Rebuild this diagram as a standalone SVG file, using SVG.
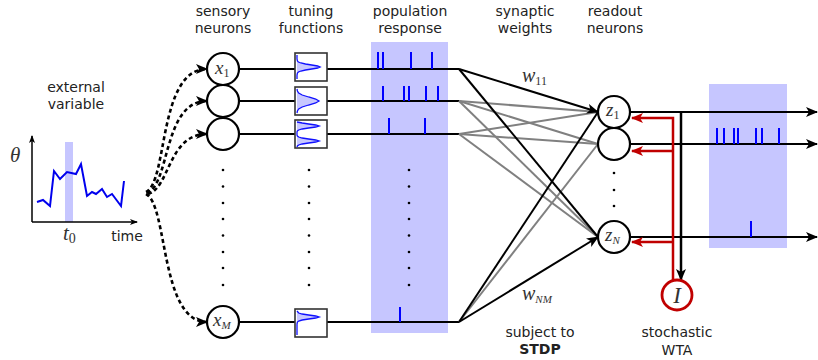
<svg xmlns="http://www.w3.org/2000/svg" width="818" height="360" viewBox="0 0 818 360">
<style>
.lbl{font-family:"DejaVu Sans",sans-serif;font-size:14px;fill:#222;text-anchor:middle}
.m{font-family:"Liberation Serif","DejaVu Serif",serif;font-style:italic;fill:#333}
.blk{stroke:#000;stroke-width:2;fill:none}
.gry{stroke:#808080;stroke-width:2;fill:none}
.neu{fill:#fff;stroke:#000;stroke-width:2.2}
.box{fill:#fff;stroke:#333;stroke-width:1.6}
.tc{fill:#c8c8ff;stroke:#1010ff;stroke-width:1.3}
.spk{stroke:#0000ff;stroke-width:2}
.sh{fill:#c6c6ff}
.dash{stroke:#000;stroke-width:2.6;fill:none;stroke-dasharray:4 3}
.red{stroke:#c00000;stroke-width:2.5;fill:none}
.dot{fill:#000}
</style>
<defs>
<marker id="ak" viewBox="0 0 12 10" refX="11" refY="5" markerWidth="12" markerHeight="10" markerUnits="userSpaceOnUse" orient="auto"><path d="M0,0 L12,5 L0,10 L3,5 z" fill="#000"/></marker>
<marker id="ar" viewBox="0 0 12 10" refX="11" refY="5" markerWidth="12" markerHeight="10" markerUnits="userSpaceOnUse" orient="auto"><path d="M0,0 L12,5 L0,10 L3,5 z" fill="#c00000"/></marker>
<marker id="as" viewBox="0 0 8 6" refX="7" refY="3" markerWidth="8" markerHeight="6" markerUnits="userSpaceOnUse" orient="auto"><path d="M0,0 L8,3 L0,6 L2,3 z" fill="#000"/></marker>
</defs>

<!-- column labels -->
<g id="labels">
<text class="lbl" x="223" y="16">sensory</text><text class="lbl" x="223" y="33">neurons</text>
<text class="lbl" x="311" y="16">tuning</text><text class="lbl" x="311" y="33">functions</text>
<text class="lbl" x="410" y="16">population</text><text class="lbl" x="410" y="33">response</text>
<text class="lbl" x="525" y="16">synaptic</text><text class="lbl" x="525" y="33">weights</text>
<text class="lbl" x="615" y="16">readout</text><text class="lbl" x="615" y="33">neurons</text>
<text class="lbl" x="76" y="92">external</text><text class="lbl" x="76" y="109">variable</text>
<text class="lbl" x="540" y="337">subject to</text><text class="lbl" x="540" y="354" font-weight="bold">STDP</text>
<text class="lbl" x="677" y="337">stochastic</text><text class="lbl" x="677" y="355">WTA</text>
</g>

<!-- external variable graph -->
<g id="graph">
<rect class="sh" x="65" y="142" width="8" height="80"/>
<line x1="32" y1="222" x2="32" y2="136" stroke="#000" stroke-width="1.5" marker-end="url(#as)"/>
<line x1="32" y1="222" x2="137" y2="222" stroke="#000" stroke-width="1.5" marker-end="url(#as)"/>
<polyline points="37,202 43,200 50,206 54,171 60,179 67,172 76,174 81,164 87,196 92,192 96,194 102,189 107,197 112,194 121,206 124,181" fill="none" stroke="#0000ee" stroke-width="2"/>
<text class="m" x="10" y="162" font-size="21">θ</text>
<text class="m" x="63" y="240" font-size="21">t<tspan font-style="normal" font-size="14" dy="3">0</tspan></text>
<text class="lbl" x="127" y="241" font-size="13.5">time</text>
</g>

<!-- shaded spike windows -->
<rect class="sh" x="371" y="42" width="77" height="291"/>
<rect class="sh" x="709" y="84" width="78" height="164"/>

<!-- connectors -->
<g id="connectors">
<path class="dash" d="M146,192 C168,182 158,69 207,69" marker-end="url(#ak)"/>
<path class="dash" d="M147,193 C170,185 163,101 207,101" marker-end="url(#ak)"/>
<path class="dash" d="M148,194 C170,188 168,134 207,134" marker-end="url(#ak)"/>
<path class="dash" d="M146,194 C168,205 160,322 207,322" marker-end="url(#ak)"/>
<!-- input rows -->
<line class="blk" x1="239" y1="69" x2="295" y2="69"/><line class="blk" x1="327" y1="69" x2="459" y2="69"/>
<line class="blk" x1="239" y1="101" x2="295" y2="101"/><line class="blk" x1="327" y1="101" x2="459" y2="101"/>
<line class="blk" x1="239" y1="134" x2="295" y2="134"/><line class="blk" x1="327" y1="134" x2="459" y2="134"/>
<line class="blk" x1="239" y1="322" x2="295" y2="322"/><line class="blk" x1="327" y1="322" x2="459" y2="322"/>
<!-- synaptic weights gray -->
<line class="gry" x1="459" y1="101" x2="598" y2="112"/>
<line class="gry" x1="459" y1="101" x2="598" y2="144"/>
<line class="gry" x1="459" y1="101" x2="598" y2="237"/>
<line class="gry" x1="459" y1="134" x2="598" y2="112"/>
<line class="gry" x1="459" y1="134" x2="598" y2="144"/>
<line class="gry" x1="459" y1="134" x2="598" y2="237"/>
<line class="gry" x1="459" y1="322" x2="598" y2="144"/>
<!-- synaptic weights black -->
<line class="blk" x1="459" y1="69" x2="598" y2="237"/>
<line class="blk" x1="459" y1="322" x2="598" y2="112"/>
<line class="blk" x1="459" y1="69" x2="598" y2="112" marker-end="url(#ak)"/>
<line class="blk" x1="459" y1="322" x2="598" y2="237" marker-end="url(#ak)"/>
<!-- outputs -->
<line class="blk" x1="630" y1="112" x2="817" y2="112" marker-end="url(#ak)"/>
<line class="blk" x1="630" y1="144" x2="817" y2="144" marker-end="url(#ak)"/>
<line class="blk" x1="630" y1="237" x2="817" y2="237" marker-end="url(#ak)"/>
<line x1="681" y1="112" x2="681" y2="280" stroke="#000" stroke-width="2.5" marker-end="url(#ak)"/>
<!-- inhibition -->
<polyline class="red" points="673,280 673,118 632,118" marker-end="url(#ar)"/>
<polyline class="red" points="673,151 632,151" marker-end="url(#ar)"/>
<polyline class="red" points="673,242 632,242" marker-end="url(#ar)"/>
</g>

<!-- spikes -->
<g id="spikes">
<path class="spk" d="M378,52V69M383,52V69M411,52V69M432,52V69"/>
<path class="spk" d="M383,86V101M404,86V101M409,86V101M426,86V101M438,86V101"/>
<path class="spk" d="M389,118V134M425,118V134"/>
<path class="spk" d="M400,307V322"/>
<path class="spk" d="M717,128V144M724,128V144M734,128V144M738,128V144M756,128V144M762,128V144M779,128V144"/>
<path class="spk" d="M751,221V237"/>
</g>

<!-- dots -->
<g id="dots">
<circle class="dot" cx="223" cy="170" r="1.3"/><circle class="dot" cx="223" cy="186.5" r="1.3"/><circle class="dot" cx="223" cy="203" r="1.3"/><circle class="dot" cx="223" cy="219" r="1.3"/><circle class="dot" cx="223" cy="235.5" r="1.3"/><circle class="dot" cx="223" cy="252" r="1.3"/><circle class="dot" cx="223" cy="268" r="1.3"/><circle class="dot" cx="223" cy="285" r="1.3"/>
<circle class="dot" cx="309" cy="170" r="1.3"/><circle class="dot" cx="309" cy="186.5" r="1.3"/><circle class="dot" cx="309" cy="203" r="1.3"/><circle class="dot" cx="309" cy="219" r="1.3"/><circle class="dot" cx="309" cy="235.5" r="1.3"/><circle class="dot" cx="309" cy="252" r="1.3"/><circle class="dot" cx="309" cy="268" r="1.3"/><circle class="dot" cx="309" cy="285" r="1.3"/>
<circle class="dot" cx="409" cy="170" r="1.3"/><circle class="dot" cx="409" cy="186.5" r="1.3"/><circle class="dot" cx="409" cy="203" r="1.3"/><circle class="dot" cx="409" cy="219" r="1.3"/><circle class="dot" cx="409" cy="235.5" r="1.3"/><circle class="dot" cx="409" cy="252" r="1.3"/><circle class="dot" cx="409" cy="268" r="1.3"/><circle class="dot" cx="409" cy="285" r="1.3"/>
<circle class="dot" cx="614" cy="173" r="1.3"/><circle class="dot" cx="614" cy="190" r="1.3"/><circle class="dot" cx="614" cy="206" r="1.3"/>
</g>

<!-- sensory neurons -->
<g id="x1"><circle class="neu" cx="223" cy="69" r="16"/><text class="m" x="215" y="74" font-size="19">x<tspan font-style="normal" font-size="12" dy="3">1</tspan></text></g>
<g id="x2"><circle class="neu" cx="223" cy="101" r="16"/></g>
<g id="x3"><circle class="neu" cx="223" cy="134" r="16"/></g>
<g id="xM"><circle class="neu" cx="223" cy="322" r="16"/><text class="m" x="213" y="326" font-size="19">x<tspan font-size="11" dy="3">M</tspan></text></g>

<!-- tuning functions -->
<g id="t1"><rect class="box" x="295" y="53" width="32" height="28"/>
<path class="tc" d="M297,55 L297,59 L297.4,61 L298.4,62 L300.9,63 L305.5,64 L311.7,65 L317.6,66 L320,67 L317.6,68 L311.7,69 L305.5,70 L300.9,71 L298.4,72 L297.4,73 L297,75 L297,79"/></g>
<g id="t2"><rect class="box" x="295" y="87" width="32" height="28"/>
<path class="tc" d="M297,89 L297.4,91 L298.7,93 L302.2,95 L308.6,97 L315.7,99 L319,101 L315.7,103 L308.6,105 L302.2,107 L298.7,109 L297.4,111 L297,113"/></g>
<g id="t3"><rect class="box" x="295" y="120" width="32" height="28"/>
<path class="tc" d="M297,122 L302.2,123 L308.6,124 L315.7,125 L319,126 L315.7,127 L308.6,128 L302.2,129 L298.7,130 L297.4,131 L297,132 L297,135 L297.4,136 L298.7,137 L302.2,138 L308.6,139 L315.7,140 L319,141 L315.7,142 L308.6,143 L302.2,144 L298.7,145 L297.4,146 L297,147"/></g>
<g id="tM"><rect class="box" x="295" y="309" width="32" height="28"/>
<path class="tc" d="M297,311 L298.7,313 L302.2,314 L308.6,315 L315.7,316 L319,317 L315.7,318 L308.6,319 L302.2,320 L298.7,321 L297.4,322 L297,324 L297,335"/></g>

<!-- readout neurons -->
<g id="z1"><circle class="neu" cx="614" cy="112" r="16"/><text class="m" x="606" y="116" font-size="19">z<tspan font-style="normal" font-size="12" dy="3">1</tspan></text></g>
<g id="z2"><circle class="neu" cx="614" cy="144" r="16"/></g>
<g id="zN"><circle class="neu" cx="614" cy="237" r="16"/><text class="m" x="605" y="241" font-size="19">z<tspan font-size="11" dy="3">N</tspan></text></g>

<!-- inhibitory neuron -->
<g id="I"><circle cx="677" cy="295" r="15" fill="#fff" stroke="#c00000" stroke-width="2.8"/><text class="m" x="677" y="303" font-size="23" text-anchor="middle" fill="#222">I</text></g>

<!-- weight labels -->
<g id="wlabels">
<text class="m" x="522" y="82" font-size="20">w<tspan font-style="normal" font-size="12" dy="3">11</tspan></text>
<text class="m" x="522" y="300" font-size="20">w<tspan font-size="11" dy="3">NM</tspan></text>
</g>
</svg>
